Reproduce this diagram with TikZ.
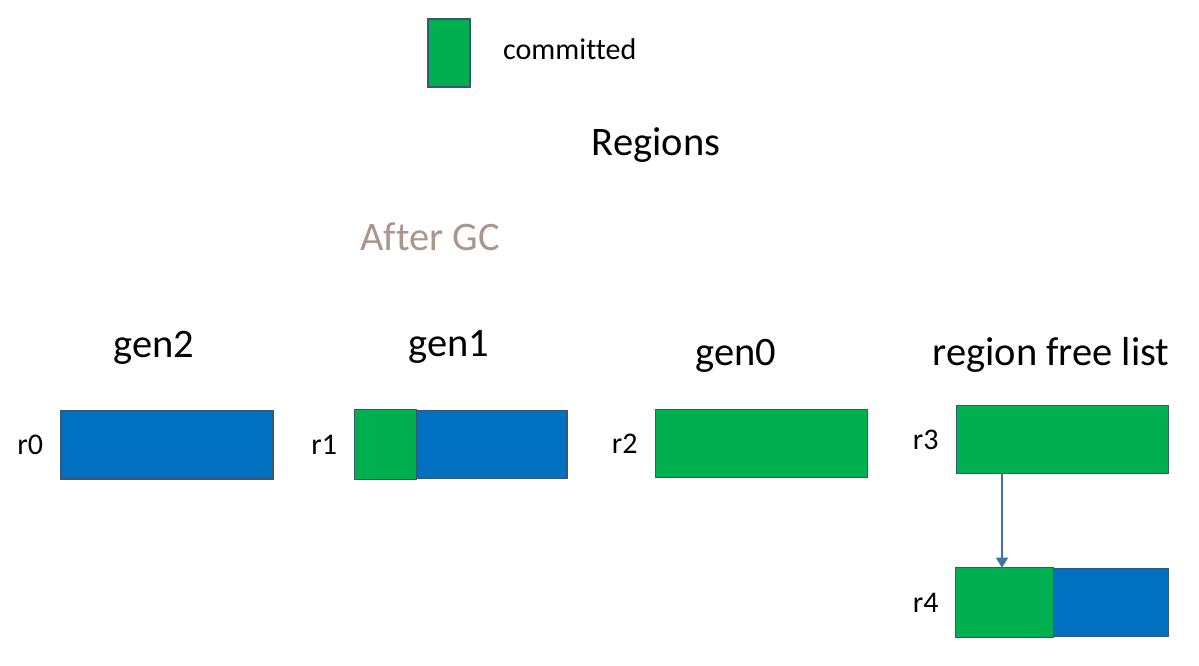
\documentclass[tikz,border=0pt]{standalone}
\usepackage{fontspec}
\setmainfont{Carlito}[Ligatures={NoCommon}]
\usetikzlibrary{positioning,arrows.meta}
\definecolor{committed}{RGB}{0,176,80}
\definecolor{reserved}{RGB}{0,112,192}
\definecolor{rim}{RGB}{56,87,120}
\definecolor{aftergc}{RGB}{170,150,138}
\definecolor{linkblue}{RGB}{65,113,170}

\begin{document}
\begin{tikzpicture}[x=1pt,y=-1pt,
  region/.style={draw=rim,line width=1.6pt,fill=reserved,minimum width=212pt,minimum height=68pt,inner sep=0pt},
  part/.style={draw=rim,line width=1.2pt,fill=committed},
  title/.style={font=\fontsize{40.5}{48}\selectfont,inner sep=0pt,anchor=base},
  rlabel/.style={font=\fontsize{30}{36}\selectfont,inner sep=0pt},
  link/.style={draw=linkblue,line width=1.2pt,-{Triangle[width=12pt,length=10pt]}}]
\useasboundingbox (0,0) rectangle (1199,666);
% legend
\node[region,fill=committed,minimum width=42pt] (key) at (449,53) {};
\node[font=\fontsize{30}{36}\selectfont,inner sep=0pt,anchor=base west] (keytext) at (503,60) {committed};
% headings
\node[title] (regions) at (656,155) {Regions};
\node[title,text=aftergc] (after) at (430,250) {After GC};
\node[title] (gen2) at (154,357) {gen2};
\node[title] (gen1) at (449,356) {gen1};
\node[title] (gen0) at (736,365) {gen0};
\node[title] (free) at (1051,365) {region free list};
% regions
\node[region] (r0) at (167,445) {};
\node[region] (r1) at (461,444.5) {};
\node[region,fill=committed] (r2) at (761.5,443.5) {};
\node[region,fill=committed] (r3) at (1062.5,439.5) {};
\node[region] (r4) at (1062.5,602.5) {};
\path (r1.south west) ++(62,0) coordinate (r1cut);
\draw[part] (r1.north west) rectangle (r1cut);
\path (r4.south west) ++(98,0) coordinate (r4cut);
\draw[part] (r4.north west) rectangle (r4cut);
\foreach \r in {r0,r1,r2,r3,r4}
  \node[rlabel,left=17pt of \r] (\r lbl) {\r};
% free list link
\coordinate (x) at (1002,0);
\draw[link] (r3.south -| x) -- (r4.north -| x);
\end{tikzpicture}
\end{document}
